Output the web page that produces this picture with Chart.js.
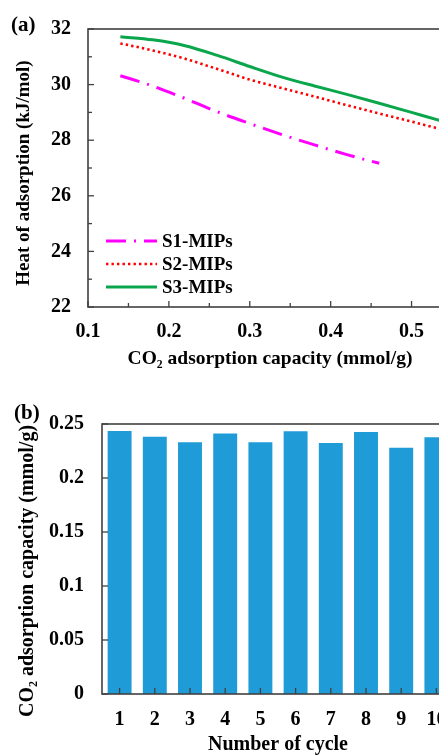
<!DOCTYPE html>
<html>
<head>
<meta charset="utf-8">
<script src="https://cdn.jsdelivr.net/npm/chart.js@4/dist/chart.umd.min.js"></script>
<style>
  html, body { margin: 0; padding: 0; background: #fff; overflow: hidden; width: 439px; height: 755px; }
  .panel { position: absolute; left: 0; }
  .tag { position: absolute; font: bold 21px "Liberation Serif", "Times New Roman", serif; color: #000; }
</style>
</head>
<body>
<div class="panel" style="top:0"><canvas id="heatChart" width="500" height="375"></canvas></div>
<div class="panel" style="top:385px"><canvas id="cycleChart" width="500" height="372"></canvas></div>
<div class="tag" style="left:11px;top:12px">(a)</div>
<div class="tag" style="left:14px;top:400px">(b)</div>
<script>
// (a) heat of adsorption vs CO2 uptake
var heatX = [0.14, 0.18, 0.22, 0.26, 0.30, 0.34, 0.38, 0.42, 0.46, 0.50, 0.54, 0.55];
var s1Heat = [30.32, 29.95, 29.50, 29.02, 28.60, 28.20, 27.83, 27.48, 27.17];
var s2Heat = [31.48, 31.23, 30.93, 30.56, 30.18, 29.87, 29.57, 29.26, 28.96, 28.67, 28.37, 28.30];
var s3Heat = [31.72, 31.61, 31.40, 31.05, 30.65, 30.27, 29.95, 29.65, 29.33, 29.00, 28.67, 28.59];
var seriesNames = ["S1-MIPs", "S2-MIPs", "S3-MIPs"];

// (b) recycling
var cycles = ["1", "2", "3", "4", "5", "6", "7", "8", "9", "10"];
var capacity = [0.2435, 0.2383, 0.233, 0.2413, 0.233, 0.2432, 0.2324, 0.2426, 0.228, 0.2377];

var FONT = '"Liberation Serif", "Times New Roman", serif';
var AXIS = '#404040';

function points(xs, ys) {
  return ys.map(function(y, i) { return { x: xs[i], y: y }; });
}

// inward tick marks + box around the plot area
var frame = {
  id: 'frame',
  afterDraw: function(chart) {
    var ctx = chart.ctx, a = chart.chartArea;
    ctx.save();
    ctx.strokeStyle = AXIS;
    ctx.lineWidth = 1.3;
    ['x', 'y'].forEach(function(id) {
      var s = chart.scales[id];
      s.ticks.forEach(function(t, i) {
        var p = s.getPixelForTick(i);
        var len = t.label === '' ? 4 : 6;
        ctx.beginPath();
        if (id === 'x') {
          ctx.moveTo(p, a.bottom);
          ctx.lineTo(p, a.bottom - len);
        } else {
          ctx.moveTo(a.left, p);
          ctx.lineTo(a.left + len, p);
        }
        ctx.stroke();
      });
    });
    ctx.lineWidth = 1.6;
    ctx.strokeRect(a.left, a.top, a.right - a.left, a.bottom - a.top);
    ctx.restore();
  }
};

// vertical y axis title, placed like the original figure (a bit below centre)
var sideTitle = {
  id: 'sideTitle',
  afterDraw: function(chart, args, opts) {
    var ctx = chart.ctx;
    ctx.save();
    ctx.translate(opts.x, opts.y);
    ctx.rotate(-Math.PI / 2);
    ctx.font = 'bold ' + opts.size + 'px ' + FONT;
    ctx.fillStyle = '#000';
    ctx.textAlign = 'center';
    ctx.textBaseline = 'middle';
    ctx.fillText(opts.text, 0, 0);
    ctx.restore();
  }
};

// legend drawn inside the lower left of the plot
var insideLegend = {
  id: 'insideLegend',
  afterDraw: function(chart) {
    var ctx = chart.ctx, a = chart.chartArea;
    var rows = [-66, -43, -20];
    ctx.save();
    ctx.font = 'bold 19px ' + FONT;
    ctx.textBaseline = 'middle';
    ctx.fillStyle = '#000';
    chart.data.datasets.forEach(function(ds, i) {
      var y = a.bottom + rows[i];
      ctx.strokeStyle = ds.borderColor;
      ctx.lineWidth = ds.borderWidth;
      ctx.setLineDash(ds.borderDash || []);
      ctx.beginPath();
      ctx.moveTo(a.left + 18, y);
      ctx.lineTo(a.left + 69, y);
      ctx.stroke();
      ctx.setLineDash([]);
      ctx.fillText(ds.label, a.left + 74, y + 1);
    });
    ctx.restore();
  }
};

var tickFont = { family: FONT, size: 20, weight: 'bold' };

new Chart(document.getElementById('heatChart'), {
  type: 'line',
  data: {
    datasets: [{
      label: seriesNames[0],
      data: points(heatX, s1Heat),
      borderColor: '#ff00ff',
      borderWidth: 3,
      borderDash: [20, 8, 2, 8]
    }, {
      label: seriesNames[1],
      data: points(heatX, s2Heat),
      borderColor: '#ff0000',
      borderWidth: 2.6,
      borderDash: [2.4, 3.1]
    }, {
      label: seriesNames[2],
      data: points(heatX, s3Heat),
      borderColor: '#0aa64c',
      borderWidth: 3
    }]
  },
  options: {
    responsive: false,
    animation: false,
    events: [],
    layout: { padding: { top: 18, right: 48, left: 0, bottom: 0 } },
    elements: { point: { radius: 0 }, line: { cubicInterpolationMode: 'monotone' } },
    plugins: {
      legend: { display: false }, tooltip: { enabled: false },
      sideTitle: { text: 'Heat of adsorption (kJ/mol)', x: 24, y: 173, size: 19 }
    },
    scales: {
      x: {
        type: 'linear', min: 0.1, max: 0.55,
        grid: { display: false, drawTicks: false },
        border: { display: false },
        afterFit: function(s) { s.height = 68; },
        ticks: {
          stepSize: 0.05, autoSkip: false, maxRotation: 0, padding: 13,
          color: '#000', font: tickFont,
          callback: function(v) {
            return Math.round(v * 100) % 10 === 0 ? v.toFixed(1) : '';
          }
        },
        title: {
          display: true, text: 'CO₂ adsorption capacity (mmol/g)', color: '#000',
          font: { family: FONT, size: 19.5, weight: 'bold' }, padding: { top: 0, bottom: 4 }
        }
      },
      y: {
        min: 22, max: 32,
        grid: { display: false, drawTicks: false },
        border: { display: false },
        afterFit: function(s) { s.width = 88; },
        ticks: {
          stepSize: 1, autoSkip: false, padding: 17,
          color: '#000', font: tickFont,
          callback: function(v) { return v % 2 === 0 ? String(v) : ''; }
        }
      }
    }
  },
  plugins: [frame, insideLegend, sideTitle]
});

new Chart(document.getElementById('cycleChart'), {
  type: 'bar',
  data: {
    labels: cycles,
    datasets: [{
      label: 'CO₂ adsorption capacity',
      data: capacity,
      backgroundColor: '#1f9bd7',
      barPercentage: 0.68,
      categoryPercentage: 1
    }]
  },
  options: {
    responsive: false,
    animation: false,
    events: [],
    layout: { padding: { top: 39, right: 46, left: 0, bottom: 0 } },
    plugins: {
      legend: { display: false }, tooltip: { enabled: false },
      sideTitle: { text: 'CO₂ adsorption capacity (mmol/g)', x: 28, y: 186, size: 20 }
    },
    scales: {
      x: {
        grid: { display: false, drawTicks: false },
        border: { display: false },
        afterFit: function(s) { s.height = 63; },
        ticks: { padding: 14, color: '#000', font: tickFont, maxRotation: 0, autoSkip: false },
        title: {
          display: true, text: 'Number of cycle', color: '#000',
          font: tickFont, padding: { top: 0, bottom: 0 }
        }
      },
      y: {
        min: 0, max: 0.25,
        grid: { display: false, drawTicks: false },
        border: { display: false },
        afterFit: function(s) { s.width = 102; },
        ticks: {
          stepSize: 0.05, padding: 18, color: '#000', font: tickFont,
          callback: function(v) { return String(parseFloat(v.toFixed(2))); }
        }
      }
    }
  },
  plugins: [frame, sideTitle]
});
</script>
</body>
</html>
